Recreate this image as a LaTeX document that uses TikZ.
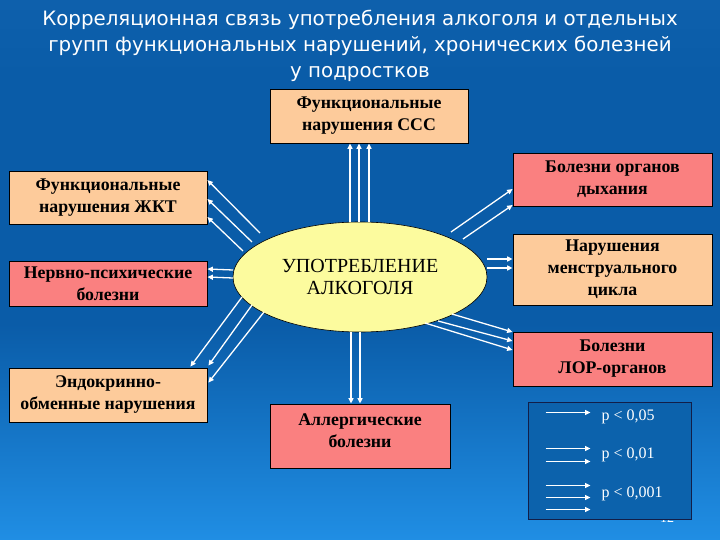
\documentclass[tikz,border=0pt]{standalone}
\usepackage{fontspec}
\setmainfont{Liberation Serif}
\newfontfamily\titlefont{DejaVu Sans}
\usetikzlibrary{arrows.meta,calc,shapes.geometric}
\definecolor{peach}{RGB}{253,203,155}
\definecolor{pinkbox}{RGB}{250,128,128}
\definecolor{ellfill}{RGB}{252,251,158}
\definecolor{bgtop}{RGB}{14,96,172}
\definecolor{bgmid}{RGB}{10,92,168}
\definecolor{bgbot}{RGB}{32,142,228}
\definecolor{legfill}{RGB}{12,98,172}
\definecolor{legline}{RGB}{18,30,72}
\pgfdeclareverticalshading{bgshade}{100bp}{color(0bp)=(bgbot); color(25bp)=(bgbot); color(45bp)=(bgmid); color(68bp)=(bgmid); color(75bp)=(bgtop); color(100bp)=(bgtop)}
\tikzset{
  box/.style={draw=black, line width=0.8pt, minimum width=198pt, minimum height=54pt,
    align=center, inner sep=0pt, text=black, font=\bfseries\fontsize{17.8}{22}\selectfont},
  peachbox/.style={box, fill=peach},
  pinkb/.style={box, fill=pinkbox},
  arr/.style={draw=white, line width=1.3pt, -{Triangle[length=5.5pt,width=5pt]}},
  ttl/.style={text=white, anchor=base, inner sep=0pt, font=\titlefont\fontsize{19.8}{26}\selectfont},
  legtxt/.style={text=white, anchor=base west, inner sep=0pt, font=\fontsize{16}{18}\selectfont}
}
\begin{document}
\begin{tikzpicture}[x=1pt,y=-1pt]
\useasboundingbox (0,0) rectangle (720,540);
\shade[shading=bgshade] (0,0) rectangle (720,540);

% title
\node[ttl] (t1) at (360,26) {Корреляционная связь употребления алкоголя и отдельных};
\node[ttl] (t2) at (360,52) {групп функциональных нарушений, хронических болезней};
\node[ttl] (t3) at (360,78) {у подростков};

% boxes
\node[peachbox] (ccc) at (369,116) {Функциональные\\нарушения ССС};
\node[peachbox, minimum height=53pt] (zkt) at (108,197.5) {Функциональные\\нарушения ЖКТ};
\node[pinkb, minimum height=45pt] (nerv) at (108,283.5) {Нервно-психические\\болезни};
\node[peachbox] (endo) at (108,395) {Эндокринно-\\обменные нарушения};
\node[pinkb, minimum width=180pt, minimum height=64pt, text depth=10pt] (allerg) at (360,436) {Аллергические\\болезни};
\node[pinkb, minimum width=199pt, minimum height=53pt] (dyh) at (612.5,179.5) {Болезни органов\\дыхания};
\node[peachbox, minimum width=199pt, minimum height=71pt] (menstr) at (612.5,269.5) {Нарушения\\менструального\\цикла};
\node[pinkb, minimum width=199pt, minimum height=54pt] (lor) at (612.5,359) {Болезни\\ЛОР-органов};

% centre
\node[ellipse, draw=black, line width=0.6pt, fill=ellfill, minimum width=254pt, minimum height=110pt,
  inner sep=0pt, align=center, font=\fontsize{20}{22}\selectfont] (e) at (360,277) {УПОТРЕБЛЕНИЕ\\АЛКОГОЛЯ};

% arrows to CCC
\foreach \d in {-19,-10,0} \draw[arr] ($(ccc.south)+(\d,79)$) -- ($(ccc.south)+(\d,0)$);
% arrows to ZKT
\draw[arr] ($(e.center)+(-100,-44)$) -- ($(zkt.east)+(0,-17.5)$);
\draw[arr] ($(e.center)+(-108,-35)$) -- ($(zkt.east)+(0,1.5)$);
\draw[arr] ($(e.center)+(-117,-26)$) -- ($(zkt.east)+(0,19.5)$);
% arrows to nerv
\draw[arr] ($(e.center)+(-127,-7)$) -- ($(nerv.east)+(0,-14.5)$);
\draw[arr] ($(e.center)+(-127,1)$) -- ($(nerv.east)+(0,-6.5)$);
% arrows to endo
\draw[arr] ($(e.center)+(-118,20)$) -- ($(endo.north east)+(-17,-1)$);
\draw[arr] ($(e.center)+(-108,28)$) -- ($(endo.north east)+(1,-2)$);
\draw[arr] ($(e.center)+(-96,35)$) -- ($(endo.north east)+(1,15)$);
% arrows to allerg
\draw[arr] ($(e.center)+(-9,55)$) -- ($(allerg.north)+(-9,0)$);
\draw[arr] ($(e.center)+(0,55)$) -- ($(allerg.north)+(0,0)$);
% arrows to dyh
\draw[arr] ($(e.center)+(91,-45)$) -- ($(dyh.west)+(0,9.5)$);
\draw[arr] ($(e.center)+(103,-38)$) -- ($(dyh.west)+(0,25.5)$);
% arrows to menstr
\draw[arr] ($(e.center)+(127,-18)$) -- ($(menstr.west)+(0,-10.5)$);
\draw[arr] ($(e.center)+(127,-9)$) -- ($(menstr.west)+(0,-1.5)$);
% arrows to LOR
\draw[arr] ($(e.center)+(92,37)$) -- ($(lor.west)+(0,-27)$);
\draw[arr] ($(e.center)+(78,44)$) -- ($(lor.west)+(0,-18)$);
\draw[arr] ($(e.center)+(65,46)$) -- ($(lor.west)+(0,-9)$);

% page number (mostly hidden)
\node[text=white, anchor=base, inner sep=0pt, font=\fontsize{14}{16}\selectfont] (pg) at (667,522) {12};

% legend
\node[draw=legline, line width=1pt, fill=legfill, minimum width=163pt, minimum height=117pt, inner sep=0pt] (leg) at (609.5,460.5) {};
\coordinate (la1) at ($(leg.north west)+(18,11)$);
\coordinate (lb1) at ($(leg.north west)+(63,11)$);
\coordinate (la2) at ($(leg.north west)+(18,47)$);
\coordinate (lb2) at ($(leg.north west)+(63,47)$);
\coordinate (la3) at ($(leg.north west)+(18,60)$);
\coordinate (lb3) at ($(leg.north west)+(63,60)$);
\coordinate (la4) at ($(leg.north west)+(18,84)$);
\coordinate (lb4) at ($(leg.north west)+(63,84)$);
\coordinate (la5) at ($(leg.north west)+(18,96)$);
\coordinate (lb5) at ($(leg.north west)+(63,96)$);
\coordinate (la6) at ($(leg.north west)+(18,108)$);
\coordinate (lb6) at ($(leg.north west)+(63,108)$);
\foreach \i in {1,...,6} \draw[arr] (la\i) -- (lb\i);
\node[legtxt] (p1) at ($(leg.north west)+(74,19)$) {p < 0,05};
\node[legtxt] (p2) at ($(leg.north west)+(74,57)$) {p < 0,01};
\node[legtxt] (p3) at ($(leg.north west)+(74,96)$) {p < 0,001};
\end{tikzpicture}
\end{document}
